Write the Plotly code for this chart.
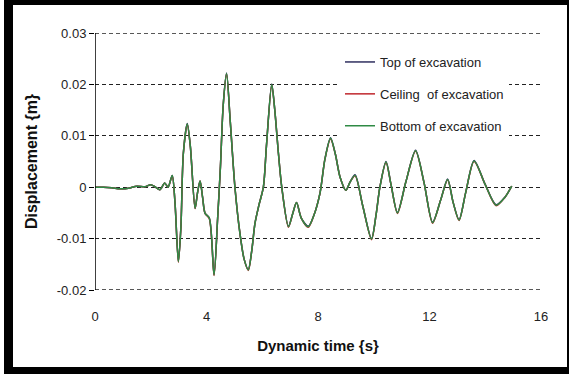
import plotly.graph_objects as go

# ---- data ----
time_s = [0, 0.3, 0.6, 0.9, 1.2, 1.5, 1.8, 2.0, 2.15, 2.33, 2.5, 2.62, 2.77, 2.87, 2.99,
          3.08, 3.17, 3.31, 3.42, 3.59, 3.68, 3.77, 3.86, 3.95, 4.10, 4.27, 4.40, 4.50,
          4.60, 4.72, 4.85, 5.02, 5.20, 5.35, 5.50, 5.62, 5.74, 5.88, 6.04, 6.15, 6.34,
          6.45, 6.58, 6.70, 6.94, 7.10, 7.23, 7.40, 7.65, 7.85, 8.07, 8.25, 8.45, 8.62,
          8.79, 9.00, 9.15, 9.33, 9.60, 9.92, 10.08, 10.22, 10.44, 10.62, 10.85, 11.15,
          11.50, 11.80, 12.11, 12.40, 12.65, 12.85, 13.06, 13.30, 13.60, 14.00, 14.39,
          14.70, 14.95]

bottom = [0, 0, -0.0001, -0.0003, -0.0002, 0.0002, 0.0001, 0.0005, 0.0001, -0.0005, 0.0008,
          0.0, 0.0023, -0.003, -0.0145, -0.008, 0.0066, 0.0123, 0.008, -0.0041, -0.001,
          0.0012, -0.002, -0.0051, -0.0060, -0.0171, -0.006, 0.004, 0.016, 0.0221, 0.013,
          0.0, -0.009, -0.014, -0.0161, -0.0125, -0.0070, -0.0035, 0.0, 0.008, 0.0200,
          0.015, 0.0066, 0.0, -0.0077, -0.0050, -0.0030, -0.0060, -0.0077, -0.0055,
          -0.0012, 0.0055, 0.0095, 0.0065, 0.0020, -0.0006, 0.0010, 0.0023, -0.0035,
          -0.0101, -0.0055, 0.0, 0.0049, 0.0005, -0.0050, 0.0010, 0.0071, 0.0010,
          -0.0069, -0.0025, 0.0015, -0.0030, -0.0064, -0.0010, 0.0051, 0.0005, -0.0035,
          -0.0020, 0.0002]

ceiling = [0, 0, -0.0001, -0.0003, -0.0002, 0.0002, 0.0001, 0.0005, 0.0001, -0.0005, 0.0008,
           0.0, 0.0022, -0.003, -0.0146, -0.008, 0.0066, 0.0122, 0.008, -0.0042, -0.001,
           0.0012, -0.002, -0.0051, -0.0061, -0.0172, -0.006, 0.004, 0.016, 0.0220, 0.013,
           0.0, -0.009, -0.014, -0.0162, -0.0125, -0.0070, -0.0035, 0.0, 0.008, 0.0199,
           0.015, 0.0066, 0.0, -0.0078, -0.0050, -0.0030, -0.0060, -0.0078, -0.0055,
           -0.0012, 0.0055, 0.0094, 0.0065, 0.0020, -0.0006, 0.0010, 0.0022, -0.0035,
           -0.0102, -0.0055, 0.0, 0.0048, 0.0005, -0.0051, 0.0010, 0.0070, 0.0010,
           -0.0070, -0.0025, 0.0014, -0.0030, -0.0065, -0.0010, 0.0050, 0.0005, -0.0036,
           -0.0020, 0.0002]

top = [0, 0, -0.0001, -0.0003, -0.0002, 0.0002, 0.0001, 0.0005, 0.0001, -0.0005, 0.0008,
       0.0, 0.0023, -0.003, -0.0144, -0.008, 0.0066, 0.0124, 0.008, -0.0041, -0.001,
       0.0012, -0.002, -0.0051, -0.0060, -0.0170, -0.006, 0.004, 0.016, 0.0222, 0.013,
       0.0, -0.009, -0.014, -0.0160, -0.0125, -0.0070, -0.0035, 0.0, 0.008, 0.0201,
       0.015, 0.0066, 0.0, -0.0076, -0.0050, -0.0030, -0.0060, -0.0076, -0.0055,
       -0.0012, 0.0055, 0.0096, 0.0065, 0.0020, -0.0006, 0.0010, 0.0024, -0.0035,
       -0.0100, -0.0055, 0.0, 0.0050, 0.0005, -0.0049, 0.0010, 0.0072, 0.0010,
       -0.0068, -0.0025, 0.0016, -0.0030, -0.0063, -0.0010, 0.0052, 0.0005, -0.0034,
       -0.0020, 0.0002]

series_names = ["Top of excavation", "Ceiling\u00a0 of excavation", "Bottom of excavation"]
series_colors = ["#2f2f5f", "#c0282d", "#2f8a45"]
x_ticks = [0, 4, 8, 12, 16]
y_ticks = [-0.02, -0.01, 0, 0.01, 0.02, 0.03]
y_tick_text = ["-0.02", "-0.01", "0", "0.01", "0.02", "0.03"]

FONT = "Arial, 'Liberation Sans', sans-serif"
GRID_COLOR = "#222222"
GRID_DASH = "4px,3px"

fig = go.Figure()
for name, vals, col in zip(series_names, [top, ceiling, bottom], series_colors):
    fig.add_trace(go.Scatter(
        x=time_s, y=vals, mode="lines", name=name, legendgroup=name,
        line=dict(color=col, width=1.5, shape="spline", smoothing=0.8),
    ))

W, H = 569, 374
L, R, T, B = 95, 28, 33, 84
pw, ph = W - L - R, H - T - B


def px(x):
    return (x - L) / pw


def py(y):
    return (H - B - y) / ph


frame = [
    (4, 0, 569, 5),
    (4, 0, 13, 374),
    (4, 367, 569, 374),
    (567, 0, 569, 374),
]
for x0, y0, x1, y1 in frame:
    fig.add_shape(type="rect", xref="paper", yref="paper",
                  x0=px(x0), x1=px(x1), y0=py(y1), y1=py(y0),
                  fillcolor="black", line=dict(width=0), layer="above")

# dashed gridlines at the two range edges (plotly omits them at the edges)
for yv in (y_ticks[0], y_ticks[-1]):
    fig.add_shape(type="line", xref="paper", yref="y", x0=0, x1=1, y0=yv, y1=yv,
                  line=dict(color=GRID_COLOR, width=1.3, dash=GRID_DASH), layer="below")

fig.update_layout(
    width=W, height=H,
    margin=dict(l=L, r=R, t=T, b=B),
    paper_bgcolor="white", plot_bgcolor="white",
    font=dict(family=FONT, color="#222222", size=13),
    showlegend=True,
    legend=dict(
        x=px(340), y=py(47), xanchor="left", yanchor="top",
        bgcolor="white", borderwidth=0,
        font=dict(family=FONT, size=13, color="#222222"),
        tracegroupgap=12, traceorder="grouped",
    ),
    xaxis=dict(
        range=[0, 16], tickvals=x_ticks, showgrid=False, zeroline=False,
        showline=False, ticks="", tickfont=dict(size=13, color="#222222"),
        ticklabelstandoff=17,
        title=dict(text="<b>Dynamic time {s}</b>", font=dict(size=15, color="#111111"), standoff=17),
        fixedrange=True,
    ),
    yaxis=dict(
        range=[-0.02, 0.03], tickvals=y_ticks, ticktext=y_tick_text,
        showgrid=True, gridcolor=GRID_COLOR, gridwidth=1.3, griddash=GRID_DASH,
        zeroline=False, showline=False,
        ticks="outside", ticklen=5, tickcolor="black", tickwidth=1.2,
        tickfont=dict(size=13, color="#222222"),
        title=dict(text="<b>Displacement {m}</b>", font=dict(size=16, color="#111111"), standoff=15),
        fixedrange=True,
    ),
)

# y axis line drawn only between the first and last ticks, as in the reference
fig.add_shape(type="line", xref="x", yref="y", x0=0, x1=0, y0=y_ticks[0], y1=y_ticks[-1],
              line=dict(color="black", width=1.5), layer="above")

fig.write_html("out.html")
